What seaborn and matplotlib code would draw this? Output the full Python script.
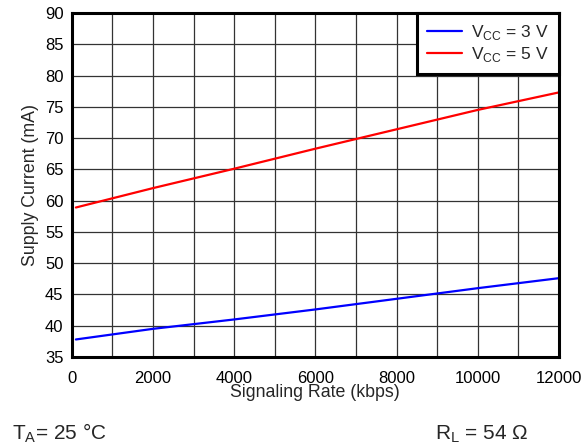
import matplotlib

matplotlib.use("Agg")

import matplotlib.pyplot as plt
from matplotlib.ticker import MultipleLocator
import pandas as pd
import seaborn as sns

# signaling rate (kbps) and supply current (mA)
rate_kbps = [100, 2000, 4000, 6000, 8000, 10000, 12000]
current_3v = [37.8, 39.5, 41.0, 42.6, 44.3, 46.0, 47.6]
current_5v = [58.9, 62.0, 65.1, 68.3, 71.4, 74.5, 77.3]
series_labels = ["V$_{\\mathregular{CC}}$ = 3 V", "V$_{\\mathregular{CC}}$ = 5 V"]
series_colors = ["#0000ff", "#ff0000"]


def build_frame() -> pd.DataFrame:
    parts = []
    for label, values in zip(series_labels, [current_3v, current_5v]):
        parts.append(pd.DataFrame({"rate": rate_kbps, "current": values, "series": label}))
    return pd.concat(parts, ignore_index=True)


def main() -> None:
    sns.set_theme(style="white")
    plt.rcParams["font.family"] = ["Liberation Sans", "DejaVu Sans"]
    plt.rcParams["mathtext.fontset"] = "custom"
    plt.rcParams["mathtext.rm"] = "Liberation Sans"

    fig = plt.figure(figsize=(5.84, 4.46), dpi=100)
    ax = fig.add_axes([0.123, 0.1996, 0.834, 0.7713])

    df = build_frame()
    sns.lineplot(
        data=df,
        x="rate",
        y="current",
        hue="series",
        palette=dict(zip(series_labels, series_colors)),
        linewidth=1.6,
        ax=ax,
        zorder=3,
    )

    ax.set_xlim(0, 12000)
    ax.set_ylim(35, 90)
    ax.xaxis.set_major_locator(MultipleLocator(2000))
    ax.xaxis.set_minor_locator(MultipleLocator(1000))
    ax.yaxis.set_major_locator(MultipleLocator(5))
    ax.grid(True, which="both", color="#333333", linewidth=0.9)
    ax.tick_params(axis="both", which="both", length=0, labelsize=12, colors="black")
    ax.tick_params(axis="x", pad=10)
    ax.tick_params(axis="y", pad=6)
    for spine in ax.spines.values():
        spine.set_color("black")
        spine.set_linewidth(2.2)
        spine.set_zorder(4)

    ax.set_xlabel("Signaling Rate (kbps)", fontsize=12.8, labelpad=-1)
    ax.set_ylabel("Supply Current (mA)", fontsize=12.8, labelpad=4)

    handles, labels = ax.get_legend_handles_labels()
    leg = ax.legend(
        handles,
        labels,
        loc="upper right",
        fontsize=12.5,
        frameon=True,
        fancybox=False,
        framealpha=1,
        edgecolor="black",
        borderaxespad=0,
        handlelength=2.0,
        handletextpad=0.5,
        labelspacing=0.15,
        borderpad=0.6,
    )
    leg.get_frame().set_linewidth(2.2)
    leg.set_zorder(5)

    fig.text(0.02, 0.0157, "T$_{\\mathregular{A}}$= 25 °C", fontsize=15, ha="left", va="baseline")
    fig.text(0.745, 0.0157, "R$_{\\mathregular{L}}$ = 54 Ω", fontsize=15, ha="left", va="baseline")

    fig.savefig("out.png", dpi=100)
    plt.close(fig)


if __name__ == "__main__":
    main()
